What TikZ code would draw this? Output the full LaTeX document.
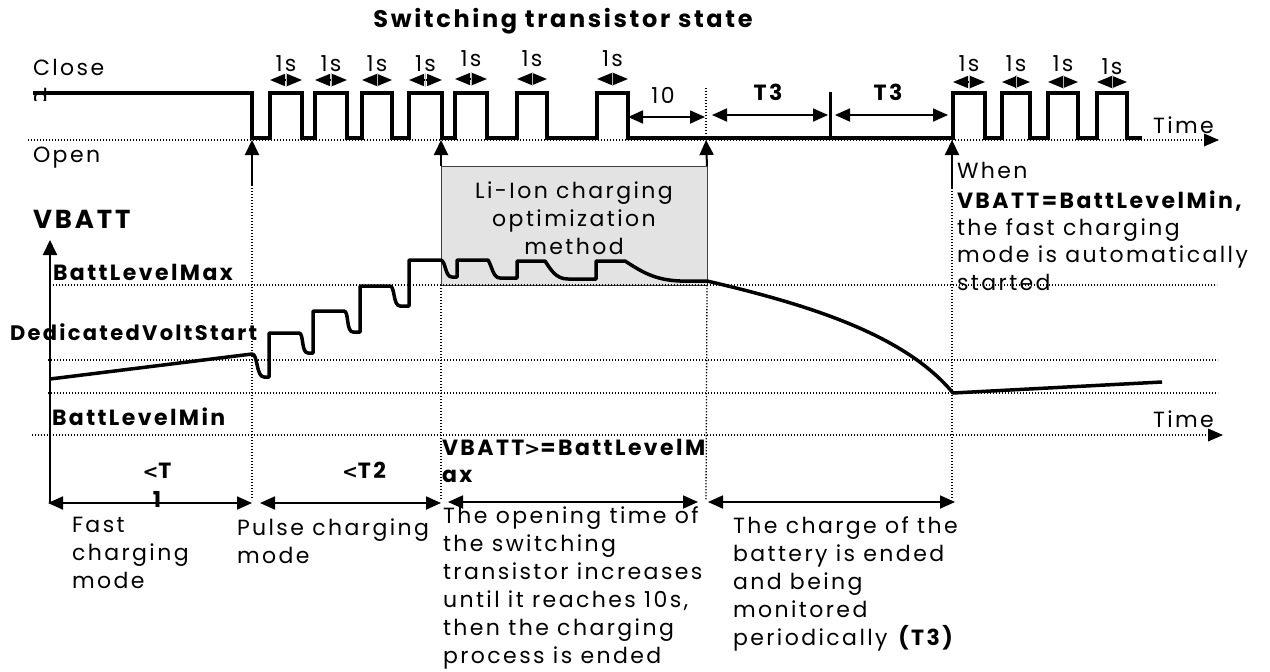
\documentclass[tikz,border=0pt]{standalone}
\usepackage{fontspec}
\setmainfont{Poppins}[LetterSpace=11]
\newfontfamily\symfont{DejaVu Sans}
\usetikzlibrary{arrows.meta,calc}
\tikzset{
 every node/.style={inner sep=0pt, outer sep=0pt},
 txt/.style={anchor=base west, align=left, font=\fontsize{22}{28}\selectfont},
 btxt/.style={anchor=base west, align=left, font=\fontsize{22}{28}\selectfont\bfseries},
 wave/.style={line width=3.5pt, line join=miter},
 dotl/.style={line width=1.3pt, dash pattern=on 1.3pt off 1.7pt},
 dimarrow/.style={line width=1.8pt, {Triangle[length=15pt,width=13pt]}-{Triangle[length=15pt,width=13pt]}},
 secarrow/.style={line width=1.5pt, {Triangle[length=15pt,width=12pt]}-{Triangle[length=15pt,width=12pt]}},
 uparrow/.style={line width=2pt, -{Triangle[length=15pt,width=14pt]}},
 optbox/.style={draw=black!75, line width=1pt, fill=black!11},
}
\newcommand\onesec[5]{%
  \coordinate (#5a) at (#1,#3);
  \coordinate (#5b) at (#2,#3);
  \draw[secarrow] (#5a) -- (#5b);
  \draw[gray!55, line width=0.7pt] ($(#5a)!0.5!(#5b)+(0,-7)$) -- ($(#5a)!0.5!(#5b)+(0,7)$);
  \node[txt, anchor=base] (#5) at ({(#1+#2)/2},#4) {1s};
}
\newcommand\lsign{{\symfont\fontsize{19}{28}\selectfont <}}
\newcommand\gsign{{\symfont\fontsize{19}{28}\selectfont >}}
\begin{document}
\begin{tikzpicture}[x=1pt,y=-1pt]
\useasboundingbox (0,0) rectangle (1270,672);
% title
\node[font=\fontsize{24}{28}\selectfont\bfseries, anchor=base] (title) at (563,27) {Switching transistor state};
% state labels
\node[txt] (close) at (33,75) {Close};
\begin{scope}
  \clip (20,80) rectangle (80,100);
  \node[txt] (closed) at (33,104) {d};
\end{scope}
\node[txt] (open) at (33,162) {Open};
\node[txt] (time1) at (1153,133) {Time};
% top time axis
\coordinate (ta0) at (28,140);
\coordinate (ta1) at (1219,140);
\draw[dotl] (ta0) -- (1205,140);
\draw[line width=0pt, -{Triangle[length=15pt,width=13pt]}] (1204,140) -- (ta1);
% waveform
\draw[wave] (33,93) -- (252,93) -- (252,138) -- (270,138) -- (270,93) -- (302,93) -- (302,138)
 -- (315,138) -- (315,93) -- (347,93) -- (347,138) -- (362,138) -- (362,93) -- (392,93) -- (392,138)
 -- (409,138) -- (409,93) -- (442,93) -- (442,138) -- (455,138) -- (455,93) -- (487,93) -- (487,138)
 -- (517,138) -- (517,93) -- (547,93) -- (547,138) -- (597,138) -- (597,93) -- (628,93) -- (628,138)
 -- (953,138) -- (953,93) -- (985,93) -- (985,138) -- (1002,138) -- (1002,93) -- (1030,93) -- (1030,138)
 -- (1048,138) -- (1048,93) -- (1078,93) -- (1078,138) -- (1097,138) -- (1097,93) -- (1127,93) -- (1127,138)
 -- (1142,138);
\draw[line width=3pt] (830,92) -- (830,138);
% 1s markers
\onesec{270}{302}{80}{71}{p1}
\onesec{315}{347}{80}{71}{p2}
\onesec{362}{392}{80}{71}{p3}
\onesec{409}{442}{80}{71}{p4}
\onesec{455}{487}{79}{66}{p5}
\onesec{517}{547}{79}{66}{p6}
\onesec{597}{628}{79}{66}{p7}
\onesec{953}{985}{82}{71}{q1}
\onesec{1002}{1030}{82}{71}{q2}
\onesec{1048}{1078}{82}{71}{q3}
\onesec{1097}{1127}{82}{74}{q4}
% 10 and T3
\coordinate (ten0) at (628,117);
\coordinate (ten1) at (705,117);
\draw[dimarrow] (ten0) -- (ten1);
\node[txt, anchor=base] (tenl) at (663,103) {10};
\coordinate (ta) at (712,115);
\coordinate (tb) at (828,115);
\coordinate (tc) at (835,115);
\coordinate (td) at (948,115);
\draw[dimarrow] (ta) -- (tb);
\draw[dimarrow] (tc) -- (td);
\node[btxt, anchor=base] (t3a) at (768,100) {T3};
\node[btxt, anchor=base] (t3b) at (888,100) {T3};
% optimisation box
\node[optbox, minimum width=266pt, minimum height=119pt, anchor=north west] (box) at (441,166) {};
\node[font=\fontsize{22}{28}\selectfont, align=center, anchor=base] (boxt) at (574,254) {Li-Ion charging\\optimization\\method};
% vertical markers
\coordinate (v1top) at (252,140);
\coordinate (v1mid) at (252,185);
\coordinate (v1bot) at (252,500);
\draw[uparrow] (v1mid) -- (v1top);
\draw[dotl] (v1mid) -- (v1bot);
\coordinate (v2top) at (441,140);
\coordinate (v2bot) at (441,500);
\draw[uparrow] (box.north west) -- (v2top);
\draw[dotl] (box.south west) -- (v2bot);
\coordinate (v3top) at (706,140);
\coordinate (v3bot) at (706,500);
\draw[uparrow] (box.north east) -- (v3top);
\draw[dotl] (box.south east) -- (v3bot);
\draw[dotl] (706,88) -- (706,138);
\coordinate (v4top) at (952,140);
\coordinate (v4mid) at (952,188);
\coordinate (v4bot) at (952,500);
\draw[uparrow] (v4mid) -- (v4top);
\draw[dotl] (v4mid) -- (v4bot);
% VBATT axis
\node[font=\fontsize{26}{28}\selectfont\bfseries, anchor=base west] (vbatt) at (33,228) {VBATT};
\coordinate (ya0) at (50,503);
\coordinate (ya1) at (50,240);
\draw[line width=1.8pt, -{Triangle[length=15pt,width=14pt]}] (ya0) -- (ya1);
% level lines
\draw[dotl] (50,285) -- (1217,285);
\draw[dotl] (48,360) -- (1218,360);
\draw[dotl] (48,393) -- (1218,393);
\coordinate (tb0) at (32,435);
\coordinate (tb1) at (1223,435);
\draw[dotl] (tb0) -- (1209,435);
\draw[line width=0pt, -{Triangle[length=15pt,width=13pt]}] (1208,435) -- (tb1);
\node[txt] (time2) at (1153,427) {Time};
\node[btxt] (lmax) at (53,280) {BattLevelMax};
\node[btxt, font=\fontsize{21}{28}\selectfont\bfseries] (ldvs) at (10,340) {DedicatedVoltStart};
\node[btxt] (lmin) at (52,425) {BattLevelMin};
% voltage curve
\draw[wave, line join=round] (50,379) -- (252,354)
 .. controls (258,354) and (256,377) .. (264,377) -- (269,377) -- (269,333) -- (299,333)
 .. controls (304,333) and (301,353) .. (308,353) -- (313,353) -- (313,311) -- (344,311)
 .. controls (349,311) and (346,332) .. (353,332) -- (360,332) -- (360,286) -- (390,286)
 .. controls (395,286) and (393,306) .. (400,306) -- (409,306) -- (409,260) -- (441,260)
 .. controls (446,262) and (445,277) .. (452,277) -- (457,277) -- (457,260) -- (488,260)
 .. controls (492,266) and (493,278) .. (500,278) -- (517,278) -- (517,261) -- (545,261)
 .. controls (551,270) and (556,279) .. (568,279) -- (596,279) -- (596,261) -- (625,261)
 .. controls (642,272) and (655,280) .. (680,281) -- (707,281)
 .. controls (810,305) and (905,335) .. (953,393) -- (1162,382);
% When text
\node[txt] (when) at (957,178) {When};
\node[btxt] (whenb) at (957,208) {VBATT=BattLevelMin,};
\node[anchor=base west, align=left, font=\fontsize{22}{27.5}\selectfont] (whenc) at (957,290) {the fast charging\\mode is automatically\\started};
% bottom dimension arrows
\coordinate (b0) at (48,503);
\coordinate (b1) at (252,503);
\coordinate (b2) at (260,503);
\coordinate (b3) at (441,503);
\coordinate (b4) at (448,502);
\coordinate (b5) at (698,502);
\coordinate (b6) at (708,502);
\coordinate (b7) at (955,502);
\draw[dimarrow] (b0) -- (b1);
\draw[dimarrow] (b2) -- (b3);
\draw[dimarrow] (b4) -- (b5);
\draw[dimarrow] (b6) -- (b7);
\node[btxt, align=center, anchor=base] (t1) at (157,507) {\lsign T\\[1pt]1};
\node[btxt, anchor=base] (t2) at (364,478) {\lsign T2};
\node[btxt, font=\fontsize{22}{27}\selectfont\bfseries] (vmax) at (442,482) {VBATT\gsign=BattLevelM\\ax};
\node[txt] (fast) at (72,588) {Fast\\charging\\mode};
\node[txt] (pulse) at (237,563) {Pulse charging\\mode};
\node[txt] (open2) at (443,663) {The opening time of\\the switching\\transistor increases\\until it reaches 10s,\\then the charging\\process is ended};
\node[txt] (ended) at (733,645) {The charge of the\\battery is ended\\and being\\monitored\\periodically \textbf{(T3)}};
\end{tikzpicture}
\end{document}
